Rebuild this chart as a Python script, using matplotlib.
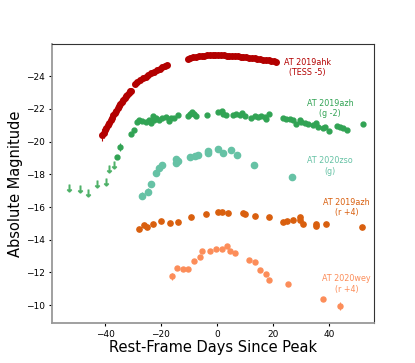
import matplotlib
matplotlib.use('Agg')
import matplotlib.pyplot as plt
import numpy as np

### AT 2019ahk TESS light curve (shifted -5)
tess_days = [-41.0, -40.5, -40.0, -39.5, -39.0, -38.5, -38.0, -37.5, -37.0, -36.5, -36.0,
             -35.5, -35.0, -34.5, -34.0, -33.5, -33.0, -32.5, -32.0, -31.5, -31.0, -30.7,
             -29.2, -28.5, -27.5, -26.5, -25.5, -24.5, -23.5, -22.5, -21.5, -20.5, -19.5,
             -18.5, -17.7,
             -10.5, -9.5, -8.5, -7.5, -6.5, -5.5, -4.5, -3.5, -2.5, -1.5, -0.5, 0.5, 1.5,
             2.5, 3.5, 4.5, 5.5, 6.5, 7.5, 8.5, 9.5, 10.5, 11.5, 12.5, 13.5, 14.5, 15.5,
             16.5, 17.5, 18.5, 19.5, 20.5, 21.0]
tess_mag = [-20.4, -20.55, -20.7, -20.85, -21.0, -21.15, -21.3, -21.45, -21.6, -21.75, -21.9,
            -22.03, -22.16, -22.3, -22.42, -22.55, -22.67, -22.78, -22.88, -22.98, -23.07, -23.12,
            -23.55, -23.65, -23.77, -23.88, -23.98, -24.08, -24.18, -24.28, -24.38, -24.47, -24.55,
            -24.62, -24.67,
            -25.05, -25.1, -25.15, -25.19, -25.22, -25.24, -25.26, -25.27, -25.28, -25.28, -25.28,
            -25.28, -25.27, -25.27, -25.26, -25.25, -25.24, -25.23, -25.21, -25.2, -25.18, -25.16,
            -25.14, -25.12, -25.1, -25.07, -25.05, -25.02, -25.0, -24.97, -24.95, -24.92, -24.9]
tess_err = [0.35, 0.3, 0.3, 0.25, 0.2, 0.15] + [0.05] * (len(tess_mag) - 6)

### AT 2019azh g (shifted -2)
azh_g_days = [-35.7, -34.8, -30.6, -29.7, -28.5, -27.9, -26.7, -25.5, -24.3, -23.7, -22.9,
              -22.5, -21.9, -20.7, -19.5, -18.3, -17.1, -16.5, -15.3, -13.8, -10.5, -9.7,
              -9.0, -8.1, -7.5, -3.7, 0.3, 1.8, 2.3, 3.2, 5.6, 6.8, 8.1, 9.0, 9.9, 12.2,
              13.5, 14.6, 15.8, 17.1, 17.6, 18.6, 23.6, 24.8, 26.0, 27.2, 28.2, 29.6, 30.2,
              31.5, 32.6, 34.4, 35.6, 36.2, 37.8, 38.6, 40.2, 42.8, 44.0, 45.2, 46.4, 52.2]
azh_g_mag = [-19.03, -19.68, -20.44, -20.7, -21.21, -21.31, -21.27, -21.21, -21.31, -21.15, -21.56,
             -21.31, -21.42, -21.31, -21.42, -21.48, -21.27, -21.42, -21.42, -21.62, -21.56, -21.68,
             -21.82, -21.72, -21.56, -21.62, -21.82, -21.88, -21.72, -21.62, -21.62, -21.66, -21.62,
             -21.76, -21.56, -21.42, -21.56, -21.48, -21.56, -21.48, -21.36, -21.72, -21.42, -21.36,
             -21.36, -21.31, -21.07, -21.31, -21.21, -21.11, -21.07, -21.01, -21.15, -20.9, -20.81,
             -20.9, -20.64, -20.95, -20.9, -20.81, -20.74, -21.05]
azh_g_err = [0.12, 0.25] + [0.05] * (len(azh_g_mag) - 2)

### AT 2019azh g upper limits
lim_days = [-52.9, -49.1, -46.0, -42.9, -39.8, -38.7, -36.8]
lim_mag = [-17.14, -17.12, -16.84, -17.4, -17.55, -18.3, -18.57]

### AT 2020zso g
zso_days = [-26.7, -24.6, -23.7, -21.7, -20.7, -19.8, -14.7, -14.7, -13.8, -9.7, -7.8, -6.6,
            -3.0, -3.0, 0.3, 2.3, 5.0, 7.1, 13.1, 26.9]
zso_mag = [-16.69, -16.94, -17.41, -18.1, -18.4, -18.55, -18.91, -18.67, -18.81, -19.08, -19.12,
           -19.2, -19.44, -19.28, -19.52, -19.32, -19.48, -19.18, -18.57, -17.85]
zso_err = [0.2, 0.2, 0.05, 0.05, 0.05, 0.05, 0.05, 0.05, 0.05, 0.05, 0.05, 0.05,
           0.05, 0.05, 0.05, 0.05, 0.2, 0.05, 0.05, 0.05]

### AT 2019azh r (shifted +4)
azh_r_days = [-27.7, -25.9, -24.9, -22.9, -19.9, -16.9, -13.8, -9.1, -3.8, 0.3, 2.0, 4.1,
              9.2, 9.9, 13.8, 18.6, 23.6, 25.2, 27.2, 29.6, 29.6, 30.8, 35.6, 35.6, 39.0, 52.0]
azh_r_mag = [-14.64, -14.9, -14.76, -14.96, -15.15, -15.0, -15.09, -15.41, -15.57, -15.68, -15.71,
             -15.62, -15.62, -15.55, -15.47, -15.39, -15.09, -15.13, -15.19, -15.37, -15.19, -14.98,
             -14.96, -14.84, -14.96, -14.8]

### AT 2020wey r (shifted +4)
wey_days = [-16.2, -14.1, -12.2, -10.2, -8.1, -6.2, -5.4, -2.4, -0.4, 1.7, 3.6, 4.7, 6.6,
            11.4, 13.5, 15.5, 17.6, 18.5, 25.4, 38.0, 44.0]
wey_mag = [-11.75, -12.28, -12.2, -12.23, -12.7, -12.97, -13.32, -13.32, -13.46, -13.46, -13.62,
           -13.33, -13.17, -12.75, -12.66, -12.15, -11.91, -11.53, -11.26, -10.4, -9.96]
wey_err = [0.2] + [0.05] * 9 + [0.12] + [0.05] * 9 + [0.25]

c_tess = '#b30000'
c_azh_g = '#31a354'
c_lim = '#41ab5d'
c_zso = '#66c2a5'
c_azh_r = '#d95f0e'
c_wey = '#fc8d59'

fig = plt.figure(figsize=(4.15, 3.63), dpi=100)
ax = fig.add_subplot(111)

ax.errorbar(tess_days, tess_mag, yerr=tess_err, fmt='o', color=c_tess, ms=4, elinewidth=0.8, capsize=0)
ax.errorbar(azh_g_days, azh_g_mag, yerr=azh_g_err, fmt='o', color=c_azh_g, ms=3.5, elinewidth=0.8, capsize=0)
ax.plot(lim_days, lim_mag, ls='none', marker=r'$\downarrow$', ms=5, color=c_lim, alpha=0.8)
ax.errorbar(zso_days, zso_mag, yerr=zso_err, fmt='o', color=c_zso, ms=4.5, elinewidth=0.8, capsize=0)
ax.errorbar(azh_r_days, azh_r_mag, fmt='o', color=c_azh_r, ms=3.8, capsize=0)
ax.errorbar(wey_days, wey_mag, yerr=wey_err, fmt='o', color=c_wey, ms=3.6, elinewidth=0.8, capsize=0)

###labels for each object###
ax.text(32.5, -24.53, 'AT 2019ahk\n(TESS -5)', color=c_tess, fontsize=5.8, ha='center', va='center')
ax.text(40.4, -22.04, 'AT 2019azh\n(g -2)', color=c_azh_g, fontsize=5.8, ha='center', va='center')
ax.text(40.4, -18.52, 'AT 2020zso\n(g)', color=c_zso, fontsize=5.8, ha='center', va='center')
ax.text(46.4, -15.98, 'AT 2019azh\n(r +4)', color=c_azh_r, fontsize=5.8, ha='center', va='center')
ax.text(46.4, -11.3, 'AT 2020wey\n(r +4)', color=c_wey, fontsize=5.8, ha='center', va='center')

ax.set_xlim(-59, 56)
ax.set_ylim(-8.9, -26)
ax.set_xticks([-40, -20, 0, 20, 40])
ax.set_yticks([-24, -22, -20, -18, -16, -14, -12, -10])
ax.tick_params(labelsize=6.5, length=2.5, pad=2.5)
ax.set_xlabel('Rest-Frame Days Since Peak', fontsize=10.5, labelpad=1)
ax.set_ylabel('Absolute Magnitude', fontsize=10.5, labelpad=2)
for s in ['left', 'bottom']:
    ax.spines[s].set_color('#999999')
    ax.spines[s].set_linewidth(1.3)
for s in ['top', 'right']:
    ax.spines[s].set_color('#333333')
    ax.spines[s].set_linewidth(0.8)

fig.subplots_adjust(left=0.125, right=0.9, bottom=0.11, top=0.88)
fig.savefig('out.png', dpi=100)
